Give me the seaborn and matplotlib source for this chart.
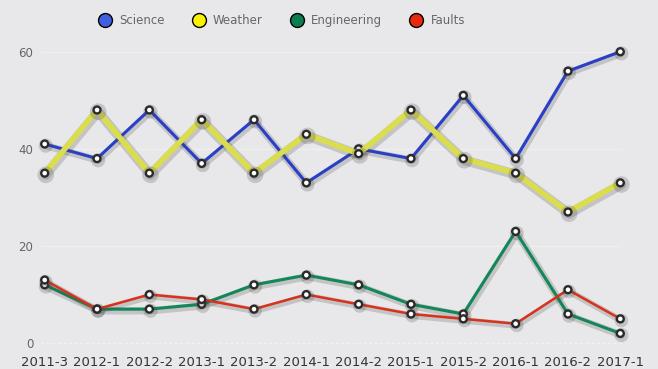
import pandas as pd
import numpy as np
import seaborn as sns
import matplotlib.pyplot as plt
import matplotlib.patheffects as pe
from matplotlib.lines import Line2D

# Chart data
periods = ['2011-3', '2012-1', '2012-2', '2013-1', '2013-2', '2014-1',
           '2014-2', '2015-1', '2015-2', '2016-1', '2016-2', '2017-1']
science = [41, 38, 48, 37, 46, 33, 40, 38, 51, 38, 56, 60]
weather = [35, 48, 35, 46, 35, 43, 39, 48, 38, 35, 27, 33]
engineering = [12, 7, 7, 8, 12, 14, 12, 8, 6, 23, 6, 2]
faults = [13, 7, 10, 9, 7, 10, 8, 6, 5, 4, 11, 5]

series = ['Science', 'Weather', 'Engineering', 'Faults']
line_colors = {'Science': '#2a3fc8', 'Weather': '#dadd4c',
               'Engineering': '#12875a', 'Faults': '#d8321c'}
legend_colors = {'Science': '#4060e0', 'Weather': '#f7f200',
                 'Engineering': '#0b7d4e', 'Faults': '#e82a0c'}
widths = {'Science': 2.2, 'Weather': 4.0, 'Engineering': 2.2, 'Faults': 1.8}

df = pd.DataFrame({'period': periods, 'Science': science, 'Weather': weather,
                   'Engineering': engineering, 'Faults': faults})
long_df = df.melt(id_vars='period', var_name='series', value_name='value')
long_df['x'] = long_df['period'].map({p: i for i, p in enumerate(periods)})

bg = '#e8e8ea'
sns.set_theme(style='white')
fig = plt.figure(figsize=(6.58, 3.69), dpi=100, facecolor=bg)
ax = fig.add_axes([29 / 658, 1 - 348 / 369, 607 / 658, 306 / 369])
ax.set_facecolor(bg)

sns.lineplot(data=long_df, x='x', y='value', hue='series', hue_order=series,
             palette=line_colors, legend=False, ax=ax, sort=False)

# style each line: width, soft shadow, white markers with dark edge
for line, name in zip(ax.get_lines(), series):
    line.set_linewidth(widths[name])
    line.set_marker('o')
    line.set_markersize(5)
    line.set_markerfacecolor('white')
    line.set_markeredgecolor('#2a2a2a')
    line.set_markeredgewidth(1.7)
    line.set_path_effects([
        pe.SimpleLineShadow(offset=(0.8, -1.2), shadow_color='#444444', alpha=0.22,
                            linewidth=widths[name] + 3),
        pe.Normal()])

ax.set_xlim(-0.3, 11.3)
ax.set_ylim(-1, 62)
ax.set_yticks([0, 20, 40, 60])
ax.set_xticks(range(len(periods)))
ax.set_xticklabels(periods)
for y in [20, 40, 60]:
    ax.axhline(y, xmin=0.02, xmax=0.975, color='#eeeeef', lw=1, zorder=0)
ax.axhline(0, xmin=0.02, xmax=0.975, color='#f2f2f2', lw=1, ls=(0, (2, 2)), zorder=0)

ax.tick_params(axis='y', length=0, pad=-3, labelsize=8.5, labelcolor='#666666')
ax.tick_params(axis='x', length=0, pad=6, labelsize=9.5, labelcolor='#333333')
ax.set_xlabel('')
ax.set_ylabel('')
sns.despine(ax=ax, left=True, bottom=True)

handles = [Line2D([0], [0], marker='o', linestyle='', markersize=10,
                  markerfacecolor=legend_colors[n], markeredgecolor='black',
                  markeredgewidth=1.0, label=n) for n in series]
leg = fig.legend(handles=handles, loc='center', ncol=4, frameon=False,
                 bbox_to_anchor=(0.424, 0.945), fontsize=8.5,
                 handletextpad=0.2, columnspacing=1.9, labelcolor='#666666')

plt.savefig('out.png', dpi=100, facecolor=bg)
